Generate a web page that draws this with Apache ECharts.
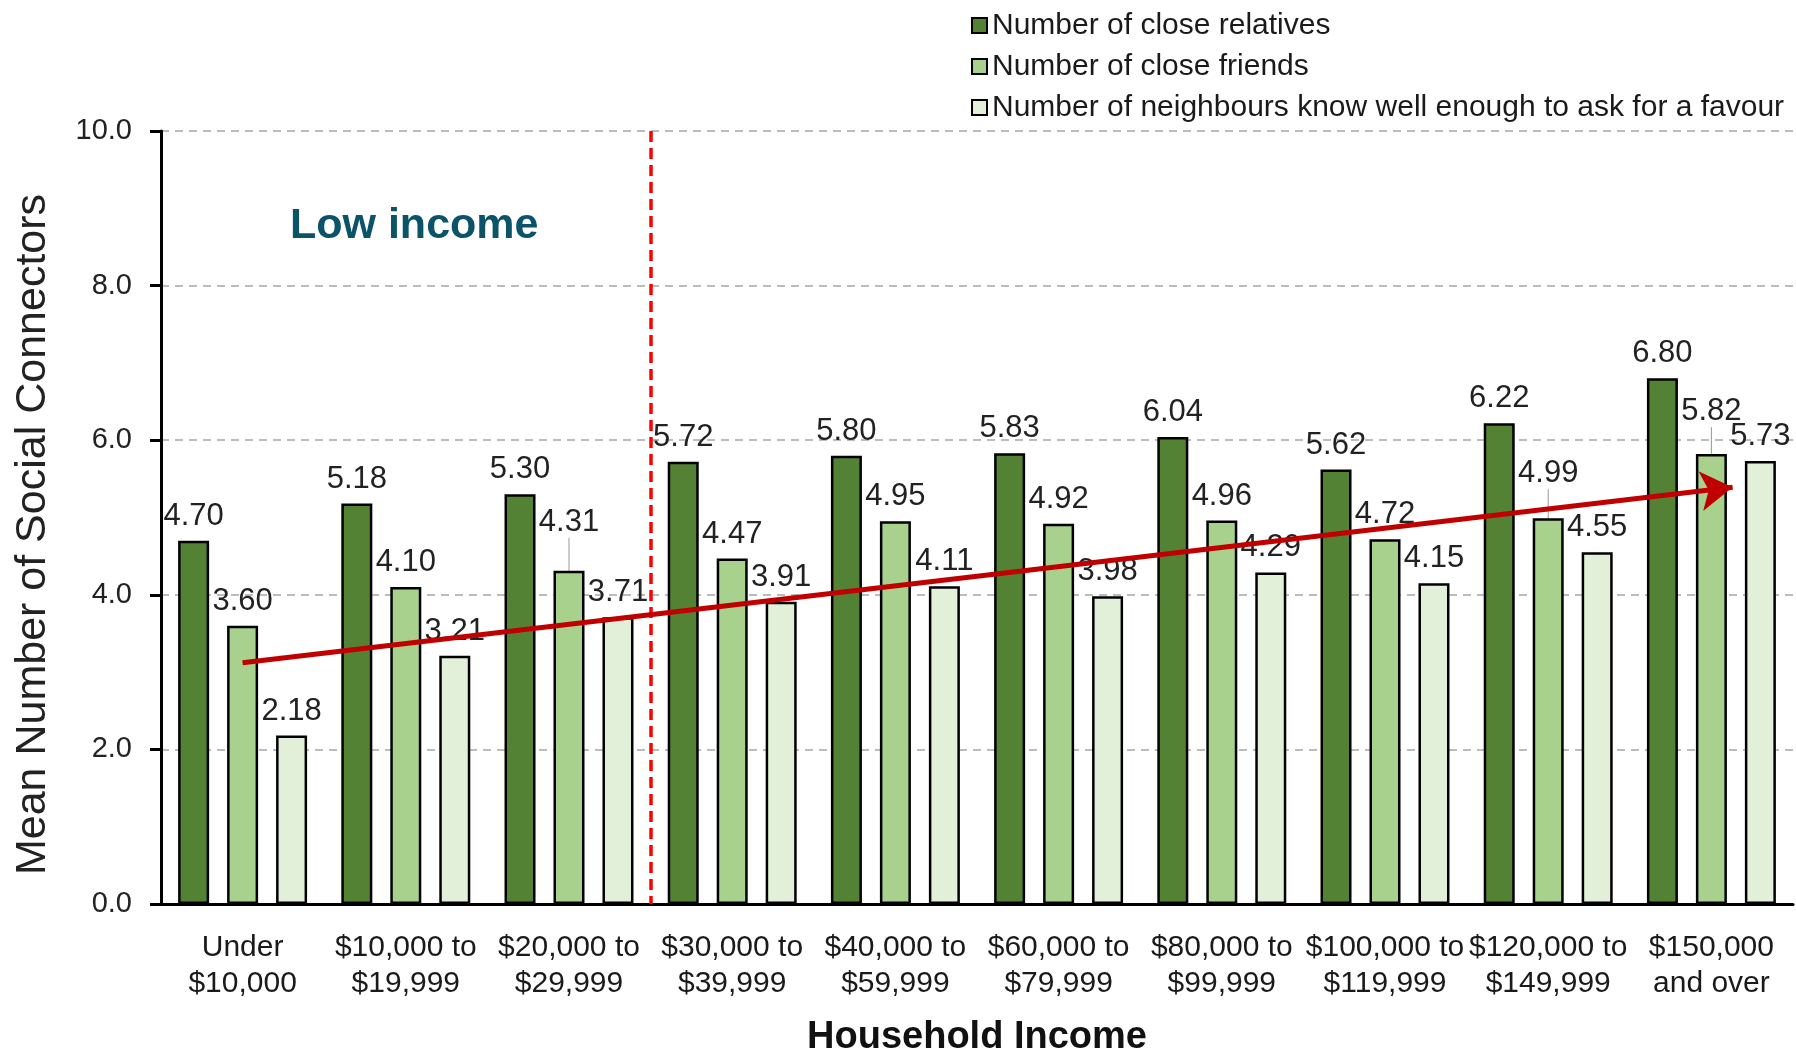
<!DOCTYPE html>
<html>
<head>
<meta charset="utf-8">
<title>Social connectors by household income</title>
<script src="https://cdn.jsdelivr.net/npm/echarts@6/dist/echarts.min.js"></script>
<style>
  html, body { margin: 0; padding: 0; background: #fff; }
  #chart { width: 1796px; height: 1051px; }
</style>
</head>
<body>
<div id="chart"></div>
<script>
// categories (x axis)
const incomeGroups = [
  'Under\n$10,000', '$10,000 to\n$19,999', '$20,000 to\n$29,999', '$30,000 to\n$39,999',
  '$40,000 to\n$59,999', '$60,000 to\n$79,999', '$80,000 to\n$99,999', '$100,000 to\n$119,999',
  '$120,000 to\n$149,999', '$150,000\nand over'
]
const seriesNames = [
  'Number of close relatives',
  'Number of close friends',
  'Number of neighbours know well enough to ask for a favour'
]
const closeRelatives = [4.70, 5.18, 5.30, 5.72, 5.80, 5.83, 6.04, 5.62, 6.22, 6.80]
const closeFriends = [3.60, 4.10, 4.31, 4.47, 4.95, 4.92, 4.96, 4.72, 4.99, 5.82]
const neighbours = [2.18, 3.21, 3.71, 3.91, 4.11, 3.98, 4.29, 4.15, 4.55, 5.73]
const yTicks = [0, 2, 4, 6, 8, 10]

// trend arrow and low income boundary, in data units (category position, value)
const trendStart = [0, 3.12]
const trendEnd = [9.13, 5.39]
const lowIncomeBoundary = 2.5

const colors = ['#548235', '#A9D18E', '#E2F0D9']
const font = 'Liberation Sans, Arial, sans-serif'

// labels that were pulled up by hand in the original, with a leader line
const raisedLabels = { '1-2': -24, '1-8': -20, '1-9': -18 }

const chart = echarts.init(document.getElementById('chart'))

function barSeries(name, values, idx) {
  return {
    name: name,
    type: 'bar',
    data: values.map((v, i) => {
      if (raisedLabels[idx + '-' + i]) {
        return { value: v, labelLine: { show: true, lineStyle: { color: '#999', width: 1 } } }
      }
      return v
    }),
    barWidth: 31,
    barGap: '58%',
    itemStyle: { color: colors[idx], borderColor: '#000', borderWidth: 2.5 },
    label: {
      show: true,
      position: 'top',
      distance: 9,
      fontFamily: font,
      fontSize: 31,
      color: '#222',
      formatter: p => p.value.toFixed(2)
    },
    labelLayout: p => {
      const dy = raisedLabels[p.seriesIndex + '-' + p.dataIndex]
      return dy ? { dy: dy } : {}
    }
  }
}

const series = [
  barSeries(seriesNames[0], closeRelatives, 0),
  barSeries(seriesNames[1], closeFriends, 1),
  barSeries(seriesNames[2], neighbours, 2),
  {
    // carrier for the annotations, on a hidden linear x axis
    name: 'annotations',
    type: 'line',
    xAxisIndex: 1,
    data: [],
    silent: true,
    markLine: {
      silent: true,
      animation: false,
      label: { show: false },
      data: [
        [
          { coord: [lowIncomeBoundary, yTicks[yTicks.length - 1]], symbol: 'none',
            lineStyle: { color: '#FF0000', type: [11, 6], width: 3.5 } },
          { coord: [lowIncomeBoundary, yTicks[0]], symbol: 'none' }
        ],
        [
          { coord: trendStart, symbol: 'none',
            lineStyle: { color: '#C00000', type: 'solid', width: 5 } },
          { coord: trendEnd, symbol: 'arrow', symbolSize: [30, 32] }
        ]
      ]
    }
  }
]

chart.setOption({
  animation: false,
  textStyle: { fontFamily: font },
  grid: { left: 161, right: 3, top: 131, bottom: 147, containLabel: false, outerBoundsMode: 'none' },
  legend: {
    orient: 'vertical',
    left: 966,
    top: 0,
    icon: 'rect',
    itemWidth: 15,
    itemHeight: 15,
    itemGap: 0,
    itemStyle: { borderColor: '#000', borderWidth: 2 },
    textStyle: { fontFamily: font, fontSize: 30, color: '#1a1a1a', lineHeight: 41 },
    data: seriesNames
  },
  graphic: [{
    type: 'text',
    left: 290,
    top: 205,
    style: { text: 'Low income', font: 'bold 43px ' + font, fill: '#0B5368' }
  }],
  xAxis: [{
    type: 'category',
    data: incomeGroups,
    name: 'Household Income',
    nameLocation: 'middle',
    nameGap: 115,
    nameTextStyle: { fontFamily: font, fontSize: 38, fontWeight: 'bold', color: '#111' },
    axisLine: { lineStyle: { color: '#000', width: 3 } },
    axisTick: { length: 10, lineStyle: { color: '#000', width: 3 } },
    axisLabel: { fontFamily: font, fontSize: 30, color: '#1a1a1a', lineHeight: 36, margin: 26, interval: 0 }
  }, {
    type: 'value',
    min: -0.5,
    max: incomeGroups.length - 0.5,
    show: false
  }],
  yAxis: {
    type: 'value',
    min: yTicks[0],
    max: yTicks[yTicks.length - 1],
    interval: yTicks[1] - yTicks[0],
    name: 'Mean Number of Social Connectors',
    nameLocation: 'middle',
    nameGap: 106,
    nameTextStyle: { fontFamily: font, fontSize: 43, color: '#222', padding: [0, 34, 0, 0] },
    axisLine: { show: true, onZero: false, lineStyle: { color: '#000', width: 3 } },
    axisTick: { show: true, length: 11, lineStyle: { color: '#000', width: 3 } },
    axisLabel: { fontFamily: font, fontSize: 29, color: '#222', margin: 29, formatter: v => v.toFixed(1) },
    splitLine: { lineStyle: { color: '#A6A6A6', width: 1.5, type: [8, 6] } }
  },
  series: series
})
</script>
</body>
</html>
